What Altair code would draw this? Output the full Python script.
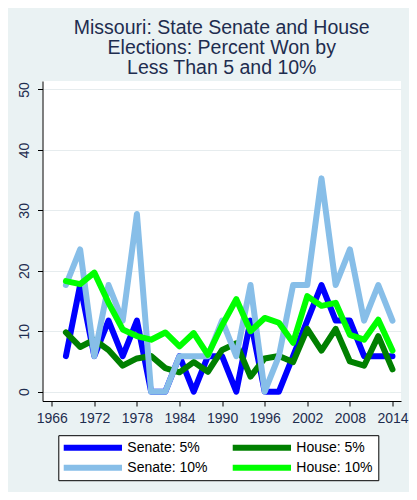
import altair as alt
import pandas as pd

years = [1968, 1970, 1972, 1974, 1976, 1978, 1980, 1982, 1984, 1986, 1988, 1990,
         1992, 1994, 1996, 1998, 2000, 2002, 2004, 2006, 2008, 2010, 2012, 2014]
senate5 = [5.88, 17.65, 5.88, 11.76, 5.88, 11.76, 0, 0, 5.88, 0, 5.88, 5.88,
           0, 11.76, 0, 0, 5.88, 11.76, 17.65, 11.76, 11.76, 5.88, 5.88, 5.88]
house5 = [9.8, 7.4, 8.6, 6.9, 4.3, 5.5, 5.9, 3.9, 3.2, 4.9, 3.3, 6.9,
          8.0, 2.5, 5.5, 5.9, 4.9, 10.4, 6.8, 10.4, 5.0, 4.3, 9.2, 3.7]
senate10 = [17.65, 23.53, 5.88, 17.65, 11.76, 29.41, 0, 0, 5.88, 5.88, 5.88, 11.76,
            5.88, 17.65, 0, 5.88, 17.65, 17.65, 35.29, 17.65, 23.53, 11.76, 17.65, 11.76]
house10 = [18.3, 17.8, 19.7, 14.7, 10.3, 9.2, 8.6, 9.8, 7.5, 9.7, 6.1, 11.0,
           15.3, 10.0, 12.2, 11.4, 8.1, 15.8, 14.2, 14.7, 9.4, 8.6, 11.9, 6.8]

series_names = ["Senate: 5%", "House: 5%", "Senate: 10%", "House: 10%"]
series_colors = ["#0000FF", "#008000", "#87BEE8", "#00FF00"]
x_ticks = [1966, 1972, 1978, 1984, 1990, 1996, 2002, 2008, 2014]
y_ticks = [0, 10, 20, 30, 40, 50]
title_lines = ["Missouri: State Senate and House", "Elections: Percent Won by", "Less Than 5 and 10%"]

rows = []
for name, vals in zip(series_names, [senate5, house5, senate10, house10]):
    for yr, v in zip(years, vals):
        rows.append({"year": yr, "value": v, "series": name})
df = pd.DataFrame(rows)

FONT = "Liberation Sans"
TXT = "#1E2D4F"

color = alt.Color(
    "series:N",
    scale=alt.Scale(domain=series_names, range=series_colors),
    legend=alt.Legend(
        title=None, orient="none", legendX=15.8, legendY=354.2,
        columns=2, direction="horizontal",
        symbolType="stroke", symbolSize=3411, symbolStrokeWidth=6, symbolOffset=-3,
        clipHeight=15, rowPadding=5, columnPadding=24,
        labelFont=FONT, labelFontSize=14, labelFontWeight="normal",
        labelColor="black", labelOffset=2,
        padding=5, strokeColor="black", fillColor="white",
        labelLimit=200,
    ),
)

x = alt.X("year:Q",
          scale=alt.Scale(domain=[1964.7, 2015.2], nice=False, zero=False),
          axis=alt.Axis(values=x_ticks, format="d", grid=False, title=None,
                        tickSize=5, tickColor="black", domainColor="black",
                        labelFont=FONT, labelFontSize=14, labelColor=TXT,
                        labelPadding=5, labelFlush=False, labelOverlap=False))
y = alt.Y("value:Q",
          scale=alt.Scale(domain=[-1.54, 51.4], nice=False, zero=False),
          axis=alt.Axis(values=y_ticks, grid=True, gridColor="#E6ECEE", title=None,
                        tickSize=5, tickColor="black", domainColor="black",
                        labelFont=FONT, labelFontSize=14, labelColor=TXT,
                        labelAngle=270, labelAlign="center", labelBaseline="alphabetic",
                        labelPadding=9, labelFlush=False, labelOverlap=False))

layers = []
for name in series_names:
    layers.append(
        alt.Chart(df).transform_filter(alt.datum.series == name)
        .mark_line(strokeWidth=6, strokeJoin="round", strokeCap="round")
        .encode(x=x, y=y, color=color)
    )

chart = alt.layer(*layers).properties(
    width=358.5, height=320,
    title=alt.TitleParams(text=title_lines, font=FONT, fontSize=19.5, fontWeight="normal",
                          color=TXT, lineHeight=20, anchor="middle", frame="group",
                          baseline="alphabetic", offset=-12),
    background="#EAF2F3",
    autosize=alt.AutoSizeParams(type="none"),
    padding={"left": 34.5, "top": 73, "right": 8, "bottom": 91},
).configure_view(fill="white", strokeWidth=0)

chart.save("out.html", embed_options={"renderer": "svg", "actions": False})
